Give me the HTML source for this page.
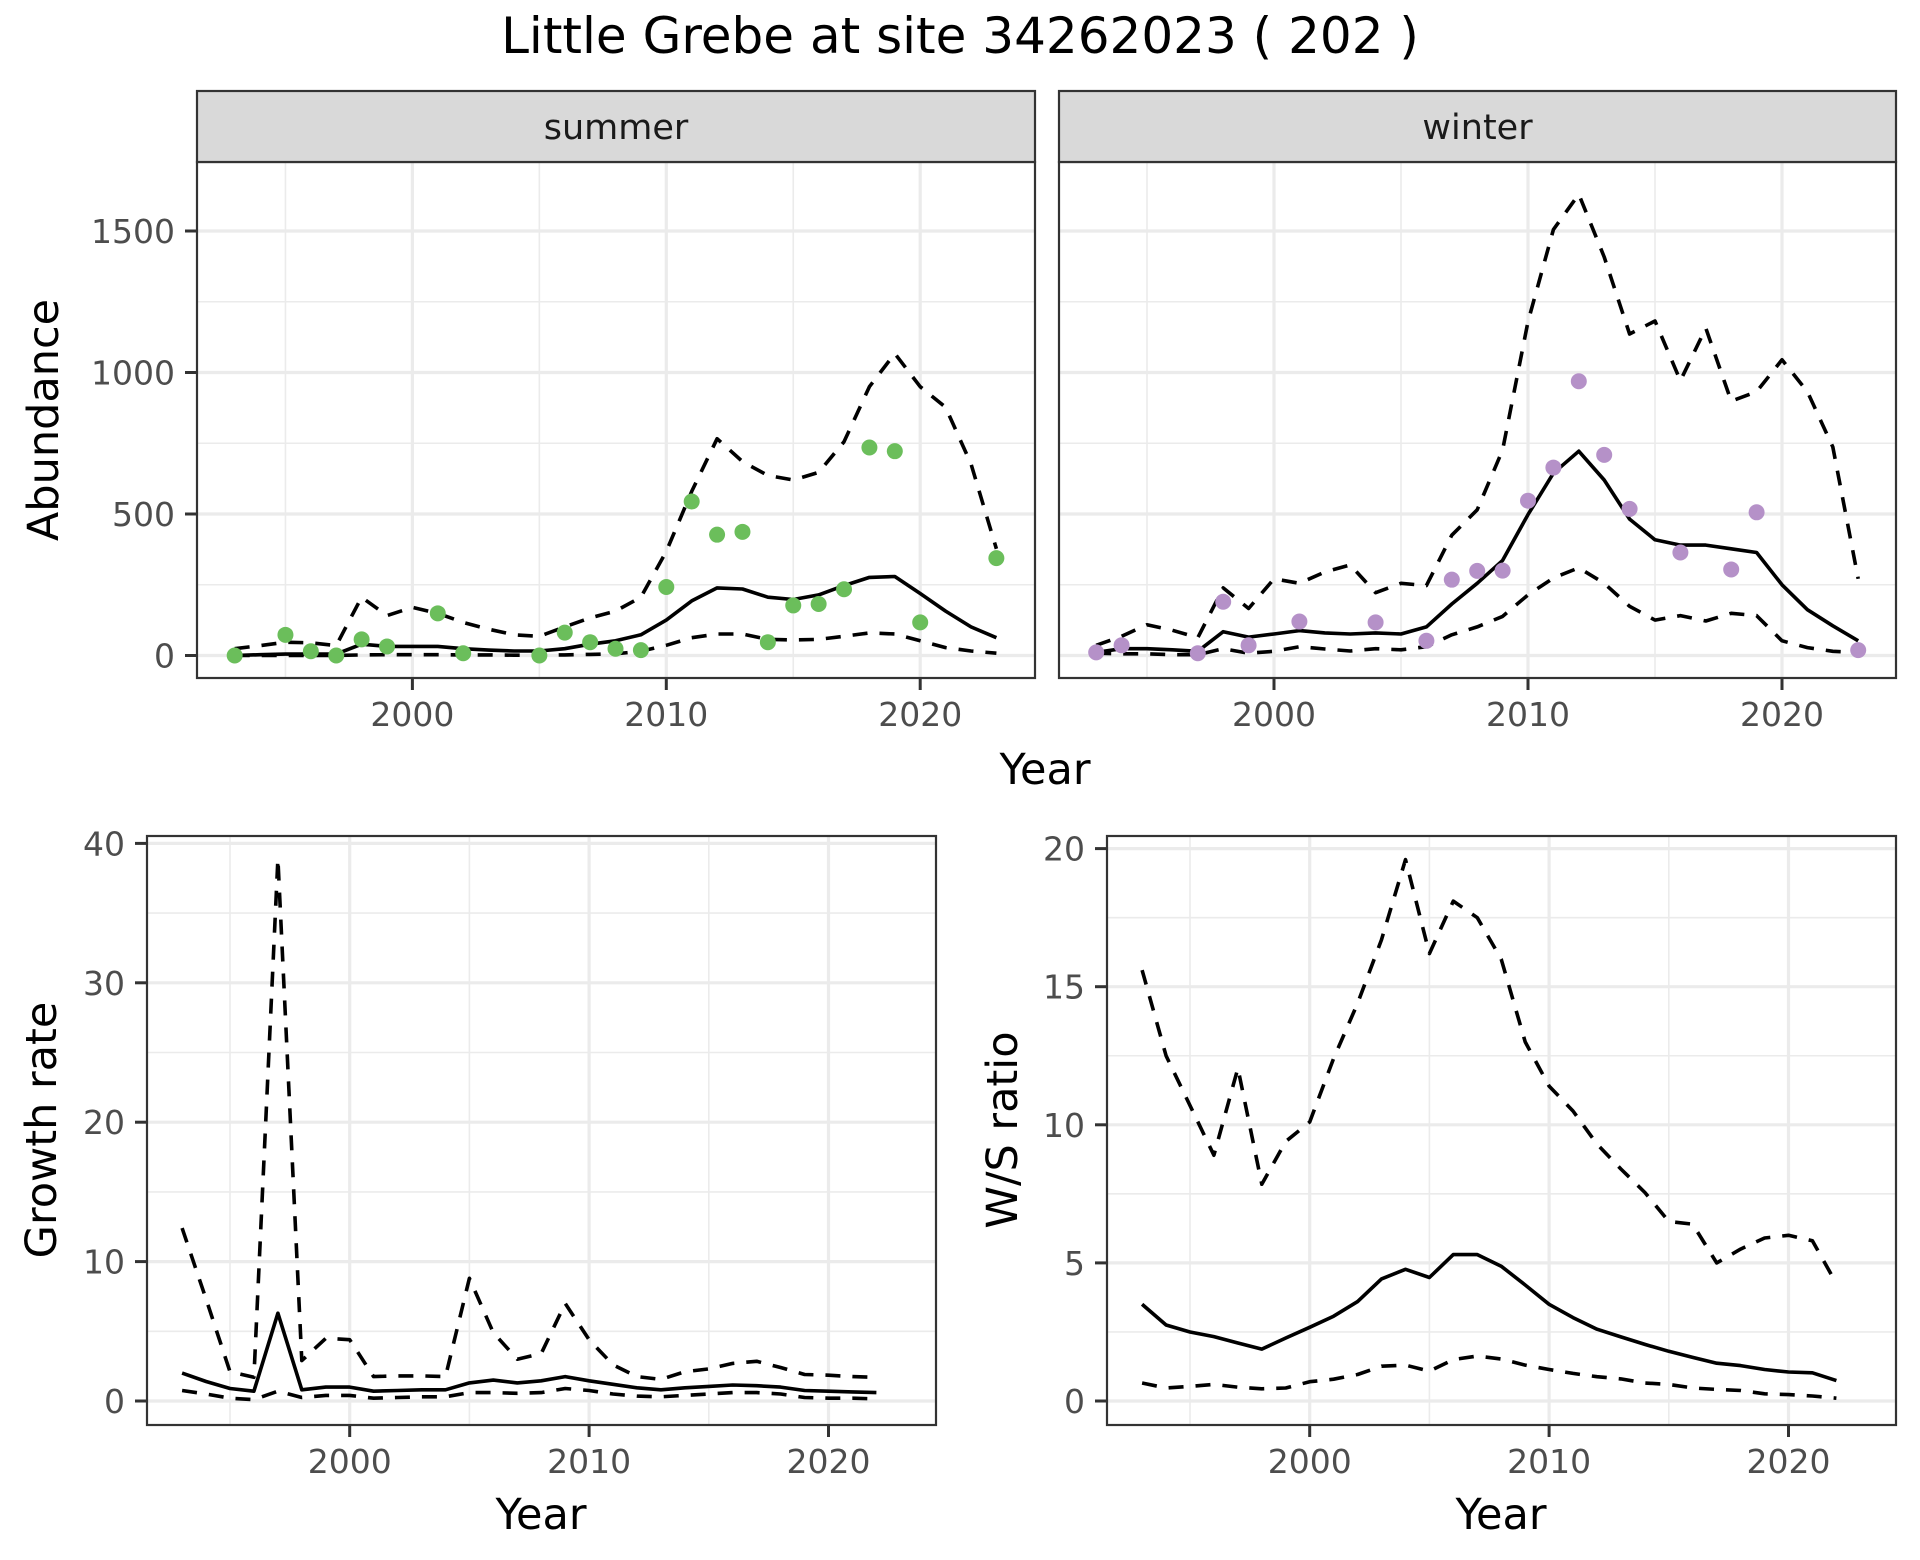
<!DOCTYPE html>
<html><head><meta charset="utf-8">
<style>
html,body{margin:0;padding:0;background:#fff;}
svg{display:block;font-family:"DejaVu Sans","Liberation Sans",sans-serif;}
</style></head>
<body>
<svg id="chart" width="1920" height="1560" viewBox="0 0 1920 1560" xmlns="http://www.w3.org/2000/svg">
<rect width="1920" height="1560" fill="#fff"/>
<text x="960" y="53" font-size="50" text-anchor="middle" fill="#000">Little Grebe at site 34262023 ( 202 )</text>
<g id="g"></g>
</svg>
<script>
const years = [1993,1994,1995,1996,1997,1998,1999,2000,2001,2002,2003,2004,2005,2006,2007,2008,2009,2010,2011,2012,2013,2014,2015,2016,2017,2018,2019,2020,2021,2022,2023];
const summerMean = [0,3,5,5,5,40,32,32,32,24,19,16,16,24,40,52,73,125,193,239,235,206,198,214,247,276,279,219,157,101,63];
const summerUpper = [24,35,47,45,35,206,141,170,149,117,93,73,68,101,133,157,206,368,580,766,685,636,620,647,755,950,1067,950,877,677,377];
const summerLower = [0,0,0,0,0,2,3,3,3,2,2,1,1,2,4,6,15,36,63,76,76,57,55,57,68,80,76,52,28,16,8];
const summerObsYears = [1993,1995,1996,1997,1998,1999,2001,2002,2005,2006,2007,2008,2009,2010,2011,2012,2013,2014,2015,2016,2017,2018,2019,2020,2023];
const summerObs = [0,73,15,0,57,32,149,8,0,81,47,24,19,242,544,427,437,47,177,182,234,735,722,117,344];
const winterMean = [11,24,24,20,15,84,65,76,88,80,76,80,76,101,182,255,336,498,644,722,620,482,409,390,390,377,364,250,162,105,52];
const winterUpper = [36,68,109,89,63,239,166,271,255,295,320,222,255,247,425,515,726,1180,1505,1630,1408,1136,1182,971,1157,899,932,1045,932,737,271];
const winterLower = [8,6,6,3,3,24,8,15,31,23,16,24,20,31,73,101,138,214,274,310,255,174,125,141,122,149,141,52,28,15,11];
const winterObsYears = [1993,1994,1997,1998,1999,2001,2004,2006,2007,2008,2009,2010,2011,2012,2013,2014,2016,2018,2019,2023];
const winterObs = [11,36,8,190,36,120,117,52,268,299,300,547,664,969,709,518,364,304,506,19];
const rYears = [1993,1994,1995,1996,1997,1998,1999,2000,2001,2002,2003,2004,2005,2006,2007,2008,2009,2010,2011,2012,2013,2014,2015,2016,2017,2018,2019,2020,2021,2022];
const growthMean = [2.0,1.4,0.9,0.7,6.3,0.8,1.0,1.0,0.7,0.75,0.8,0.8,1.3,1.5,1.3,1.45,1.75,1.45,1.2,0.95,0.8,0.95,1.05,1.15,1.1,1.0,0.75,0.7,0.65,0.6];
const growthUpper = [12.4,7.3,2.1,1.7,38.9,2.9,4.5,4.4,1.75,1.8,1.8,1.75,8.8,4.9,3.0,3.4,7.0,4.4,2.6,1.75,1.55,2.1,2.3,2.7,2.85,2.4,1.9,1.85,1.75,1.7];
const growthLower = [0.75,0.5,0.2,0.1,0.7,0.25,0.4,0.4,0.2,0.25,0.3,0.3,0.6,0.6,0.55,0.6,0.9,0.75,0.5,0.35,0.3,0.4,0.5,0.6,0.6,0.5,0.25,0.2,0.2,0.15];
const ratioMean = [3.5,2.75,2.5,2.33,2.1,1.88,2.28,2.67,3.07,3.6,4.42,4.77,4.47,5.3,5.3,4.88,4.2,3.5,3.02,2.6,2.32,2.05,1.8,1.58,1.37,1.28,1.14,1.05,1.02,0.74];
const ratioUpper = [15.6,12.5,10.7,8.9,12.05,7.85,9.4,10.1,12.4,14.4,16.7,19.6,16.2,18.1,17.5,16.0,13.0,11.4,10.5,9.3,8.4,7.55,6.5,6.4,5.0,5.5,5.9,6.0,5.8,4.25];
const ratioLower = [0.65,0.47,0.53,0.6,0.5,0.44,0.47,0.7,0.79,0.96,1.26,1.3,1.08,1.5,1.63,1.52,1.3,1.14,1.0,0.88,0.8,0.65,0.6,0.47,0.42,0.38,0.26,0.23,0.18,0.1];
const abTicks = [0,500,1000,1500];
const yearTicks = [2000,2010,2020];
const growthTicks = [0,10,20,30,40];
const ratioTicks = [0,5,10,15,20];

const NS = "http://www.w3.org/2000/svg";
const G = document.getElementById('g');
function mk(tag, attrs, parent){
  const e = document.createElementNS(NS, tag);
  for (const k in attrs) e.setAttribute(k, attrs[k]);
  (parent||G).appendChild(e);
  return e;
}
function lin(d0,d1,r0,r1){ return v => r0 + (v-d0)/(d1-d0)*(r1-r0); }

function panel(name, box, xs, ys, xMinor, yMinor, xTicks, yTicks, showY){
  const bg = mk('rect',{x:box.x0,y:box.y0,width:box.x1-box.x0,height:box.y1-box.y0,fill:'#fff'});
  
  
  xMinor.forEach(v=>{ mk('line',{x1:xs(v),x2:xs(v),y1:box.y0,y2:box.y1,stroke:'#EBEBEB','stroke-width':1.6}); });
  yMinor.forEach(v=>{ mk('line',{x1:box.x0,x2:box.x1,y1:ys(v),y2:ys(v),stroke:'#EBEBEB','stroke-width':1.6}); });
  xTicks.forEach(v=>{ mk('line',{x1:xs(v),x2:xs(v),y1:box.y0,y2:box.y1,stroke:'#EBEBEB','stroke-width':3.2}); });
  yTicks.forEach(v=>{ mk('line',{x1:box.x0,x2:box.x1,y1:ys(v),y2:ys(v),stroke:'#EBEBEB','stroke-width':3.2}); });
  xTicks.forEach(v=>{
    mk('line',{x1:xs(v),x2:xs(v),y1:box.y1,y2:box.y1+12,stroke:'#333','stroke-width':3});
    const t = mk('text',{x:xs(v),y:box.y1+48,'font-size':33,'text-anchor':'middle',fill:'#4D4D4D'});
    t.textContent = v;
    
    
  });
  if (showY) yTicks.forEach(v=>{
    mk('line',{x1:box.x0-12,x2:box.x0,y1:ys(v),y2:ys(v),stroke:'#333','stroke-width':3});
    const t = mk('text',{x:box.x0-22,y:ys(v)+12,'font-size':33,'text-anchor':'end',fill:'#4D4D4D'});
    t.textContent = v;
    
    
  });
}
function border(name, box){
  const b = mk('rect',{x:box.x0,y:box.y0,width:box.x1-box.x0,height:box.y1-box.y0,fill:'none',stroke:'#333','stroke-width':2.2});
  
  
}
function line(name, xsArr, vals, xs, ys, dashed){
  const d = vals.map((v,i)=>(i?'L':'M')+xs(xsArr[i]).toFixed(1)+','+ys(v).toFixed(1)).join(' ');
  const p = mk('path',{d:d,fill:'none',stroke:'#000','stroke-width':3.6,'stroke-linejoin':'round'});
  if (dashed) p.setAttribute('stroke-dasharray','15 12');
  
  
}
function points(name, xsArr, vals, xs, ys, color){
  vals.forEach((v,i)=>{
    const c = mk('circle',{cx:xs(xsArr[i]),cy:ys(v),r:8,fill:color});
    
    
  });
}
function strip(name, label, x0, x1){
  const r = mk('rect',{x:x0,y:91,width:x1-x0,height:71,fill:'#D9D9D9',stroke:'#333','stroke-width':2.2});
  
  
  const t = mk('text',{x:(x0+x1)/2,y:139,'font-size':35,'text-anchor':'middle',fill:'#1A1A1A'});
  t.textContent = label;
  
  
}
function label(name, text, x, y, rot, size){
  const t = mk('text',{x:x,y:y,'font-size':size||43,'text-anchor':'middle',fill:'#000'});
  if (rot) t.setAttribute('transform','rotate(-90 '+x+' '+y+')');
  t.textContent = text;
  
  
}

// Abundance panels
const abY = lin(0,500,655.5,514);
const sBox = {x0:197,x1:1035,y0:162,y1:678};
const wBox = {x0:1059,x1:1896,y0:162,y1:678};
const sX = lin(2000,2010,412.4,666.3);
const wX = lin(2000,2010,1274,1528);
const abMinor = [250,750,1250];
const yrMinor = [1995,2005,2015];

panel('summer', sBox, sX, abY, yrMinor, abMinor, yearTicks, abTicks, true);
line('summer-upper-ci', years, summerUpper, sX, abY, true);
line('summer-lower-ci', years, summerLower, sX, abY, true);
line('summer-mean', years, summerMean, sX, abY, false);
points('summer-count-point', summerObsYears, summerObs, sX, abY, '#6BBE5B');
border('summer', sBox);
strip('summer','summer',197,1035);

panel('winter', wBox, wX, abY, yrMinor, abMinor, yearTicks, abTicks, false);
line('winter-upper-ci', years, winterUpper, wX, abY, true);
line('winter-lower-ci', years, winterLower, wX, abY, true);
line('winter-mean', years, winterMean, wX, abY, false);
points('winter-count-point', winterObsYears, winterObs, wX, abY, '#B591C8');
border('winter', wBox);
strip('winter','winter',1059,1896);

label('abundance-y-axis-title','Abundance',58,420,true);
label('abundance-x-axis-title','Year',1045,784,false);

// Growth rate
const gBox = {x0:147,x1:936,y0:836,y1:1425};
const gX = lin(2000,2010,349.7,589.1);
const gY = lin(0,10,1401,1261.6);
panel('growth', gBox, gX, gY, yrMinor, [5,15,25,35], yearTicks, growthTicks, true);
line('growth-upper-ci', rYears, growthUpper, gX, gY, true);
line('growth-lower-ci', rYears, growthLower, gX, gY, true);
line('growth-mean', rYears, growthMean, gX, gY, false);
border('growth', gBox);
label('growth-y-axis-title','Growth rate',56,1130,true);
label('growth-x-axis-title','Year',541,1529,false);

// W/S ratio
const rBox = {x0:1107,x1:1896,y0:836,y1:1425};
const rX = lin(2000,2010,1309.7,1549.1);
const rY = lin(0,5,1401,1262.9);
panel('ratio', rBox, rX, rY, yrMinor, [2.5,7.5,12.5,17.5], yearTicks, ratioTicks, true);
line('ratio-upper-ci', rYears, ratioUpper, rX, rY, true);
line('ratio-lower-ci', rYears, ratioLower, rX, rY, true);
line('ratio-mean', rYears, ratioMean, rX, rY, false);
border('ratio', rBox);
label('ratio-y-axis-title','W/S ratio',1017,1130,true);
label('ratio-x-axis-title','Year',1501,1529,false);
</script>
</body></html>
